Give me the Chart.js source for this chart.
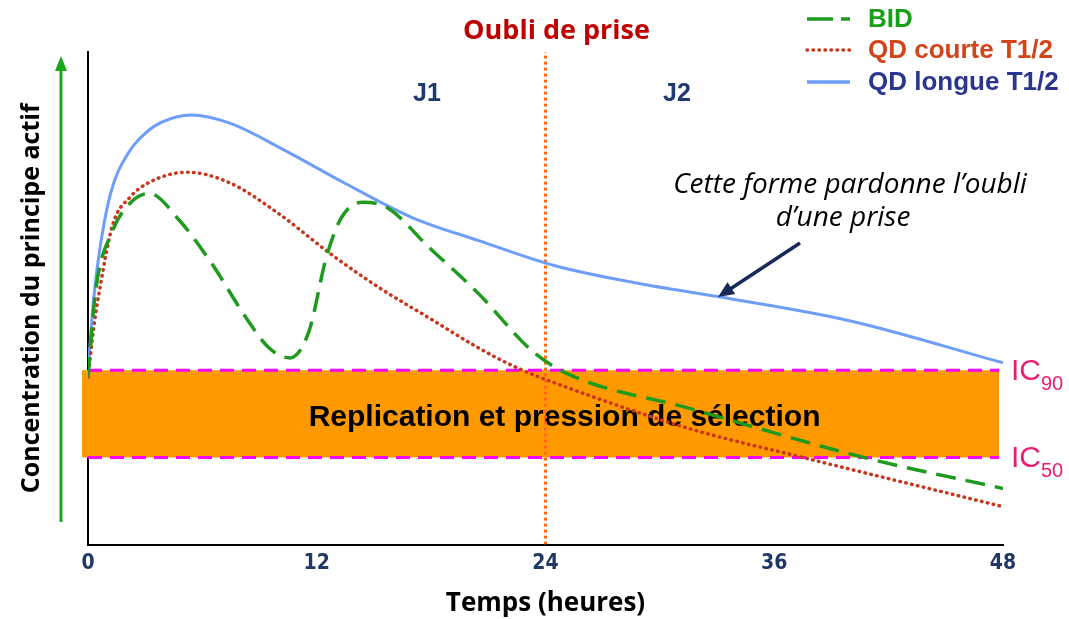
<!DOCTYPE html>
<html lang="fr">
<head>
<meta charset="UTF-8" />
<title>Concentration du principe actif</title>
<script src="https://cdn.jsdelivr.net/npm/chart.js"></script>
<style>
  html, body { margin: 0; padding: 0; background: #fff; }
</style>
</head>
<body>
<canvas id="myChart" width="1069" height="619"></canvas>
<script>
// time in hours, concentration in arbitrary units (0-100)
const blueHours = [0, 0.3, 0.6, 1.2, 2.1, 3.0, 3.9, 5.4, 7.4, 10.0, 13.5, 17.0, 20.5, 24.5, 28.9, 33.1, 40.0, 48];
const blueConc  = [35.2, 50, 59.5, 71.5, 79.4, 83.5, 85.8, 87.2, 85.6, 80.7, 73.3, 66.4, 61.7, 56.6, 53.0, 50.3, 45.4, 36.9];

const redHours = [0, 0.3, 0.6, 1.3, 2.2, 3.1, 5.2, 7.4, 10.0, 12.7, 15.3, 17.9, 20.5, 22.5, 24.5, 31.5, 37.7, 48];
const redConc  = [34, 44, 51.5, 65, 70.5, 73.3, 75.6, 73.5, 67.2, 59.1, 52.1, 46.0, 39.9, 35.9, 32.8, 23.6, 17.5, 7.7];

const greenHours = [0, 0.4, 1.3, 2.2, 3.2, 4.8, 6.5, 8.3, 9.5, 10.6, 11.6, 12.5, 13.3, 14.4, 15.7, 17.9, 20.5, 23.3, 25.2, 31.5, 40.9, 48];
const greenConc  = [34, 51.5, 63.8, 69.3, 71.3, 65.8, 57.0, 46.0, 39.9, 37.9, 43.4, 58.3, 66.4, 69.5, 68.4, 60.3, 50.9, 39.3, 34.6, 27.7, 17.5, 11.4];

const ic90 = 35.4;
const ic50 = 17.7;
const bandEnd = 47.8;
const missedDose = 24;
const xTicks = [0, 12, 24, 36, 48];

const seriesLabels = ["BID", "QD courte T1/2", "QD longue T1/2"];
const bandLabel = "Replication et pression de sélection";

const toPoints = (xs, ys) => xs.map((x, i) => ({ x: x, y: ys[i] }));

const annotations = {
  id: "annotations",
  beforeDatasetsDraw(chart) {
    // orange band reaches a little past the y axis
    const { ctx, scales: { x, y } } = chart;
    const top = y.getPixelForValue(ic90), bot = y.getPixelForValue(ic50);
    ctx.save();
    ctx.fillStyle = "#ff9900";
    ctx.fillRect(x.left - 6, top, 7, bot - top);
    ctx.restore();
  },
  afterDatasetDraw(chart, args) {
    if (chart.data.datasets[args.index].label !== "IC50") return;
    const { ctx, scales: { x, y } } = chart;
    ctx.save();
    ctx.font = 'bold 30px "Liberation Sans", Arial, sans-serif';
    ctx.fillStyle = "#000";
    ctx.textAlign = "center";
    ctx.textBaseline = "middle";
    const yMid = (y.getPixelForValue(ic90) + y.getPixelForValue(ic50)) / 2;
    ctx.fillText(bandLabel, x.getPixelForValue(25), yMid + 4);
    ctx.restore();
  },
  afterDraw(chart) {
    const { ctx, scales: { x, y } } = chart;
    ctx.save();

    // header texts
    ctx.textAlign = "center";
    ctx.textBaseline = "middle";
    ctx.font = 'bold 27px "Open Sans", sans-serif';
    ctx.fillStyle = "#c00000";
    ctx.fillText("Oubli de prise", x.getPixelForValue(missedDose) + 11, 31);

    ctx.font = 'bold 25px "Liberation Sans", Arial, sans-serif';
    ctx.fillStyle = "#1f3a6e";
    ctx.fillText("J1", 427, 94);
    ctx.fillText("J2", 677, 94);

    // legend
    const lx0 = 807, lx1 = 850, tx = 868;
    const rows = [
      { y: 19, color: "#1e9a1e", text: "#19a019", dash: [26, 8], cap: "butt", w: 3.5 },
      { y: 50, color: "#c8361c", text: "#d2441a", dash: [0.5, 5.5], cap: "round", w: 3.5 },
      { y: 82, color: "#6f9ef8", text: "#2b3590", dash: [], cap: "butt", w: 3.5 }
    ];
    ctx.textAlign = "left";
    ctx.font = 'bold 26px "Liberation Sans", Arial, sans-serif';
    rows.forEach((r, i) => {
      ctx.beginPath();
      ctx.setLineDash(r.dash);
      ctx.lineCap = r.cap;
      ctx.lineWidth = r.w;
      ctx.strokeStyle = r.color;
      ctx.moveTo(lx0, r.y);
      ctx.lineTo(lx1, r.y);
      ctx.stroke();
      ctx.fillStyle = r.text;
      ctx.fillText(seriesLabels[i], tx, r.y + 1);
    });
    ctx.setLineDash([]);
    ctx.lineCap = "butt";

    // italic note + arrow
    ctx.textAlign = "center";
    ctx.fillStyle = "#000";
    ctx.font = 'italic 28px "Open Sans", sans-serif';
    ctx.fillText("Cette forme pardonne l\u2019oubli", 850, 185);
    ctx.fillText("d\u2019une prise", 843, 218);

    const drawArrow = (x0, y0, x1, y1, color, w, len, half) => {
      const a = Math.atan2(y1 - y0, x1 - x0);
      ctx.strokeStyle = color;
      ctx.fillStyle = color;
      ctx.lineWidth = w;
      ctx.beginPath();
      ctx.moveTo(x0, y0);
      ctx.lineTo(x1 - Math.cos(a) * len * 0.8, y1 - Math.sin(a) * len * 0.8);
      ctx.stroke();
      ctx.beginPath();
      ctx.moveTo(x1, y1);
      ctx.lineTo(x1 - Math.cos(a) * len + Math.sin(a) * half, y1 - Math.sin(a) * len - Math.cos(a) * half);
      ctx.lineTo(x1 - Math.cos(a) * len - Math.sin(a) * half, y1 - Math.sin(a) * len + Math.cos(a) * half);
      ctx.closePath();
      ctx.fill();
    };
    drawArrow(800, 243, 718, 297, "#172a57", 3.5, 16, 7);
    drawArrow(61, 522, 61, 56, "#18a818", 3, 15, 6);

    // IC labels
    ctx.textAlign = "left";
    ctx.textBaseline = "alphabetic";
    ctx.fillStyle = "#ee1a72";
    [[ic90, "90"], [ic50, "50"]].forEach(([v, sub]) => {
      const py = y.getPixelForValue(v);
      ctx.font = '30px "Liberation Sans", Arial, sans-serif';
      ctx.fillText("IC", 1011, py + 10);
      const w = ctx.measureText("IC").width;
      ctx.font = '20px "Liberation Sans", Arial, sans-serif';
      ctx.fillText(sub, 1011 + w, py + 20);
    });

    ctx.restore();
  }
};

const ctx = document.getElementById("myChart").getContext("2d");
const myChart = new Chart(ctx, {
  type: "line",
  data: {
    datasets: [
      {
        label: "IC90",
        data: [{ x: 0, y: ic90 }, { x: bandEnd, y: ic90 }],
        borderColor: "#ff00ff",
        borderWidth: 3,
        borderDash: [14, 8],
        backgroundColor: "#ff9900",
        fill: "+1",
        pointRadius: 0,
        order: 10
      },
      {
        label: "IC50",
        data: [{ x: 0, y: ic50 }, { x: bandEnd, y: ic50 }],
        borderColor: "#ff00ff",
        borderWidth: 3,
        borderDash: [14, 8],
        fill: false,
        pointRadius: 0,
        order: 9
      },
      {
        label: "Oubli de prise",
        data: [{ x: missedDose, y: 0 }, { x: missedDose, y: 100 }],
        borderColor: "#ff6a1a",
        borderWidth: 3,
        borderDash: [3, 3],
        fill: false,
        pointRadius: 0,
        order: 5
      },
      {
        label: seriesLabels[2],
        data: toPoints(blueHours, blueConc),
        borderColor: "#6f9ef8",
        borderWidth: 3,
        cubicInterpolationMode: "monotone",
        fill: false,
        pointRadius: 0,
        order: 3
      },
      {
        label: seriesLabels[1],
        data: toPoints(redHours, redConc),
        borderColor: "#c8361c",
        borderWidth: 3.5,
        borderDash: [0.5, 5.5],
        borderCapStyle: "round",
        cubicInterpolationMode: "monotone",
        fill: false,
        pointRadius: 0,
        order: 2
      },
      {
        label: seriesLabels[0],
        data: toPoints(greenHours, greenConc),
        borderColor: "#1e9a1e",
        borderWidth: 3.5,
        borderDash: [20, 10],
        cubicInterpolationMode: "monotone",
        fill: false,
        pointRadius: 0,
        order: 1
      }
    ]
  },
  options: {
    responsive: false,
    animation: false,
    layout: { padding: { left: 17, right: 66, top: 52, bottom: 0 } },
    plugins: {
      legend: { display: false },
      tooltip: { enabled: false }
    },
    scales: {
      x: {
        type: "linear",
        min: 0,
        max: 48,
        afterBuildTicks: (scale) => { scale.ticks = xTicks.map((v) => ({ value: v })); },
        grid: { display: false, drawTicks: false },
        border: { color: "#000", width: 2 },
        ticks: {
          color: "#1f3864",
          padding: 6,
          maxRotation: 0,
          font: { family: "'Liberation Sans Narrow', 'DejaVu Sans Condensed', sans-serif", weight: "bold", size: 21 }
        },
        title: {
          display: true,
          text: "Temps (heures)",
          color: "#000",
          padding: { top: 6, bottom: 0 },
          font: { family: "'Open Sans', sans-serif", weight: "bold", size: 26 }
        }
      },
      y: {
        min: 0,
        max: 100,
        grid: { display: false, drawTicks: false },
        border: { color: "#000", width: 2 },
        ticks: { display: false },
        title: {
          display: true,
          text: "Concentration du principe actif",
          color: "#000",
          padding: { top: 0, bottom: 41 },
          font: { family: "'Open Sans', sans-serif", weight: "bold", size: 25 }
        }
      }
    }
  },
  plugins: [annotations]
});
</script>
</body>
</html>
